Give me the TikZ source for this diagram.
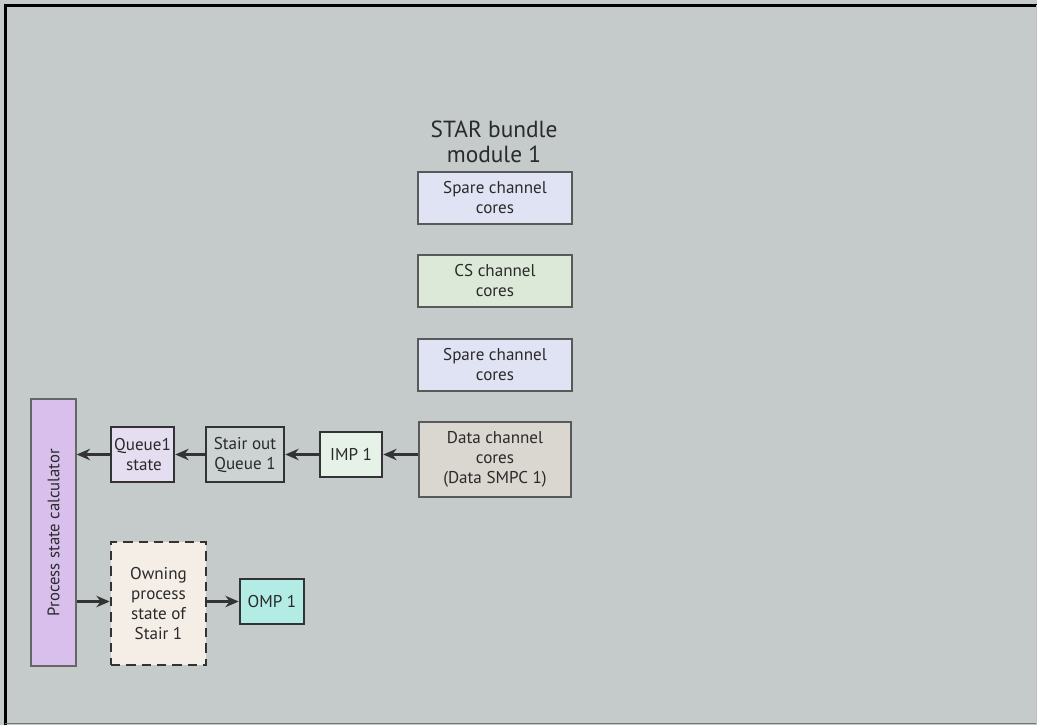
\documentclass[tikz,border=0pt]{standalone}
\usepackage{fontspec}
\setmainfont{PT Sans}
\usetikzlibrary{arrows.meta}
\definecolor{bg}{HTML}{C5CBCA}
\definecolor{spare}{HTML}{E0E3F3}
\definecolor{csf}{HTML}{DCE9D8}
\definecolor{dataf}{HTML}{DAD6D0}
\definecolor{impf}{HTML}{E6F1E8}
\definecolor{stairf}{HTML}{CDD2D2}
\definecolor{queuef}{HTML}{E5DEF0}
\definecolor{pscf}{HTML}{D9C0EC}
\definecolor{ownf}{HTML}{F5EEE7}
\definecolor{ompf}{HTML}{B3ECE5}
\definecolor{edge}{HTML}{333333}
\definecolor{txt}{HTML}{2A2A2A}
\begin{document}
\begin{tikzpicture}[x=0.75pt,y=-0.75pt,
  bigbox/.style={draw=black!65,line width=1.1pt,inner sep=0pt,align=center,font=\fontsize{12.8}{15}\selectfont,text=txt},
  smallbox/.style={draw=edge,line width=1.9pt,inner sep=0pt,align=center,font=\fontsize{12.8}{15}\selectfont,text=txt},
  arr/.style={draw=edge,line width=1.8pt,-{Stealth[length=10pt,width=8.5pt]}}]
\useasboundingbox (0,0) rectangle (1037,725);
\fill[bg] (0,0) rectangle (1037,725);
\draw[black,line width=2.2pt] (5.5,725) -- (5.5,5.5) -- (1037,5.5);
\draw[black!55,line width=1pt] (5,723.5) -- (1037,723.5);
\draw[black!25,line width=0.8pt] (1036.3,5) -- (1036.3,725);

\node[font=\fontsize{17.5}{18.75}\selectfont,text=txt,align=center] (title) at (494,142) {STAR bundle\\module 1};

\node[bigbox,fill=spare,minimum width=154*0.75pt,minimum height=52*0.75pt] (sp1) at (495,198) {Spare channel\\cores};
\node[bigbox,fill=csf,minimum width=154*0.75pt,minimum height=52*0.75pt] (cs) at (495,281) {CS channel\\cores};
\node[bigbox,fill=spare,minimum width=154*0.75pt,minimum height=52*0.75pt] (sp2) at (495,365) {Spare channel\\cores};
\node[bigbox,fill=dataf,minimum width=152*0.75pt,minimum height=75*0.75pt] (data) at (495,459.5) {Data channel\\cores\\(Data SMPC 1)};

\node[smallbox,fill=impf,minimum width=62*0.75pt,minimum height=45*0.75pt] (imp) at (351,454.5) {IMP 1};
\node[smallbox,fill=stairf,minimum width=78*0.75pt,minimum height=55*0.75pt] (stair) at (245,454.5) {Stair out\\Queue 1};
\node[smallbox,fill=queuef,minimum width=63*0.75pt,minimum height=55*0.75pt] (queue) at (142.5,454.5) {Queue1\\\,state};
\node[draw=black!60,line width=1pt,fill=pscf,minimum width=45*0.75pt,minimum height=267*0.75pt,inner sep=0pt] (psc) at (53.5,532.5) {};
\node[rotate=90,font=\fontsize{12.5}{14}\selectfont,text=txt] (psct) at (psc.center) {Process state calculator};

\node[smallbox,dashed,dash pattern=on 7pt off 4.5pt,fill=ownf,minimum width=95*0.75pt,minimum height=123*0.75pt] (own) at (158.5,603.5) {Owning\\process\\state of\\Stair 1};
\node[smallbox,fill=ompf,minimum width=64*0.75pt,minimum height=45*0.75pt] (omp) at (272,601.5) {OMP 1};

\draw[arr] (data.west |- imp) -- (imp.east);
\draw[arr] (imp.west) -- (stair.east);
\draw[arr] (stair.west) -- (queue.east);
\draw[arr] (queue.west) -- (queue.west -| psc.east);
\draw[arr] (psc.east |- omp) -- (own.west |- omp);
\draw[arr] (own.east |- omp) -- (omp.west);
\end{tikzpicture}
\end{document}
